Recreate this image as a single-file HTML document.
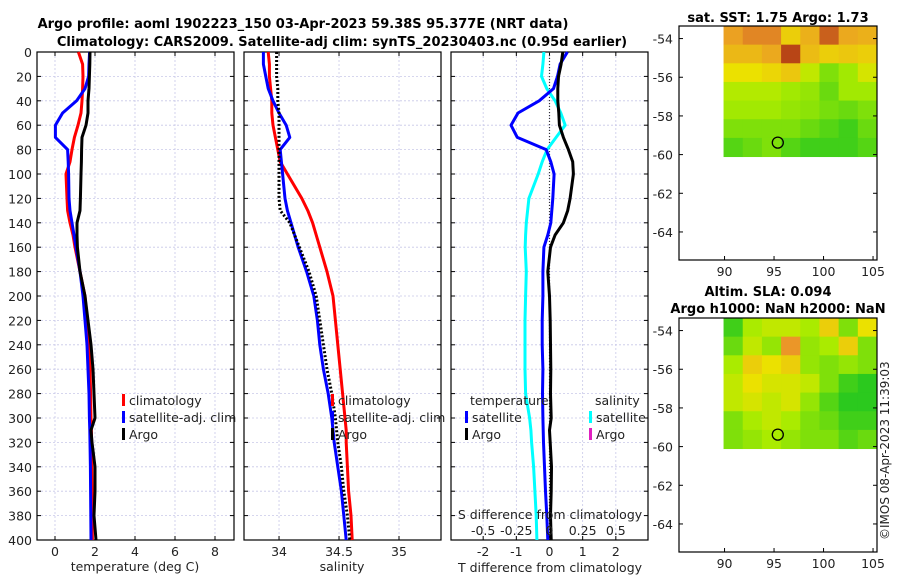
<!DOCTYPE html>
<html><head><meta charset="utf-8"><style>
html,body{margin:0;padding:0;background:#fff;}
svg{display:block;font-family:"DejaVu Sans","Liberation Sans",sans-serif;}
</style></head><body>
<svg id="c" width="900" height="580" viewBox="0 0 900 580" xmlns="http://www.w3.org/2000/svg">
<text x="303" y="28" text-anchor="middle" font-size="13" font-weight="bold">Argo profile: aoml 1902223_150 03-Apr-2023 59.38S 95.377E (NRT data)</text>
<text x="342" y="46" text-anchor="middle" font-size="13" font-weight="bold">Climatology: CARS2009. Satellite-adj clim: synTS_20230403.nc (0.95d earlier)</text>
<text x="778" y="22" text-anchor="middle" font-size="13" font-weight="bold">sat. SST: 1.75 Argo: 1.73</text>
<text x="768" y="296" text-anchor="middle" font-size="13" font-weight="bold">Altim. SLA: 0.094</text>
<text x="778" y="313" text-anchor="middle" font-size="13" font-weight="bold">Argo h1000: NaN h2000: NaN</text>
<text transform="translate(889,540) rotate(-90)" font-size="12" fill="#222">©IMOS 08-Apr-2023 11:39:03</text>
<g id="g"></g>
</svg>
<script>
// depth levels (m)
const depthsA = [0,10,20,30,40,50,60,70,80,90,100,120,130,140,150,160,180,200,220,240,260,280,300,310,320,340,360,380,400];
// Temperature (deg C)
const tempClim = [1.17,1.38,1.4,1.38,1.35,1.3,1.15,0.97,0.85,0.75,0.55,0.6,0.63,0.75,0.9,1.0,1.25,1.5,1.6,1.7,1.75,1.78,1.8,1.82,1.83,1.84,1.85,1.86,1.87];
const tempSat  = [1.73,1.7,1.68,1.5,1.08,0.38,0.02,0.02,0.63,0.66,0.68,0.7,0.75,0.85,0.95,1.05,1.25,1.4,1.5,1.6,1.65,1.7,1.72,1.74,1.75,1.77,1.78,1.79,1.8];
const tempArgo = [1.75,1.74,1.72,1.7,1.65,1.65,1.55,1.35,1.33,1.32,1.3,1.27,1.25,1.1,1.1,1.12,1.25,1.5,1.65,1.8,1.9,1.95,2.0,1.8,1.85,2.0,2.0,1.95,2.05];
// Salinity
const salClim = [33.91,33.92,33.92,33.93,33.94,33.94,33.95,33.97,33.99,34.01,34.07,34.19,34.24,34.28,34.31,34.34,34.4,34.45,34.47,34.49,34.51,34.53,34.55,34.56,34.56,34.57,34.58,34.6,34.61];
const salSat  = [33.87,33.87,33.89,33.91,33.95,34.0,34.06,34.09,34.01,34.02,34.03,34.05,34.07,34.1,34.13,34.16,34.23,34.29,34.32,34.34,34.37,34.41,34.44,34.45,34.46,34.49,34.52,34.54,34.56];
const salArgo = [33.98,33.98,33.98,33.99,33.99,34.0,34.0,34.0,34.0,34.0,34.0,34.0,34.01,34.09,34.13,34.17,34.25,34.31,34.34,34.37,34.4,34.44,34.47,34.48,34.49,34.52,34.54,34.57,34.59];
// Differences from climatology
const tDiffSat  = [0.54,0.32,0.24,0.12,-0.31,-0.95,-1.16,-0.97,-0.1,0.04,0.14,0.1,0.07,0.04,-0.05,-0.17,-0.2,-0.2,-0.22,-0.22,-0.2,-0.21,-0.2,-0.19,-0.18,-0.15,-0.12,-0.08,-0.05];
const tDiffArgo = [0.4,0.35,0.27,0.25,0.25,0.28,0.3,0.42,0.57,0.7,0.72,0.62,0.55,0.42,0.17,0.03,-0.05,0.0,0.02,0.03,0.04,0.03,0.05,0.0,0.02,0.06,0.05,0.03,0.05];
const sDiffSat  = [-0.042,-0.05,-0.06,-0.02,0.042,0.085,0.118,0.05,-0.018,-0.055,-0.085,-0.155,-0.165,-0.175,-0.18,-0.183,-0.175,-0.18,-0.185,-0.185,-0.185,-0.18,-0.15,-0.14,-0.135,-0.12,-0.11,-0.1,-0.095];
// Ticks
const depthTicks = [0,20,40,60,80,100,120,140,160,180,200,220,240,260,280,300,320,340,360,380,400];
const tTicks = [0,2,4,6,8];
const sTicks = [34,34.5,35];
const tdTicks = [-2,-1,0,1,2];
const sdTicks = [-0.5,-0.25,0,0.25,0.5];
const sdLabels = ["-0.5","-0.25","0","0.25","0.5"];
const latTicks = [-54,-56,-58,-60,-62,-64];
const lonTicks = [90,95,100,105];
// Map fields (0 = low green, 1 = high dark red), 7 rows x 8 cols
const sstField = [
[0.72,0.78,0.78,0.6,0.68,0.85,0.7,0.68],
[0.66,0.66,0.7,0.9,0.65,0.6,0.62,0.6],
[0.55,0.55,0.58,0.62,0.45,0.3,0.38,0.5],
[0.42,0.42,0.42,0.38,0.35,0.25,0.38,0.38],
[0.38,0.38,0.38,0.35,0.33,0.28,0.25,0.3],
[0.3,0.3,0.3,0.3,0.25,0.2,0.15,0.25],
[0.2,0.25,0.3,0.2,0.15,0.15,0.15,0.2]];
const slaField = [
[0.15,0.4,0.45,0.45,0.4,0.6,0.3,0.55],
[0.25,0.45,0.35,0.75,0.35,0.4,0.6,0.3],
[0.4,0.6,0.55,0.6,0.35,0.3,0.35,0.3],
[0.45,0.55,0.5,0.5,0.45,0.3,0.15,0.1],
[0.45,0.5,0.45,0.5,0.35,0.2,0.1,0.1],
[0.3,0.4,0.45,0.4,0.3,0.25,0.15,0.15],
[0.3,0.35,0.4,0.35,0.3,0.3,0.2,0.25]];
const floatLon = 95.38, floatLat = -59.38;

const NS="http://www.w3.org/2000/svg";
const G=document.getElementById('g');
function mk(tag,attrs,parent){const e=document.createElementNS(NS,tag);for(const k in attrs)e.setAttribute(k,attrs[k]);(parent||G).appendChild(e);return e;}
const yTop=52,yBot=540;
const yD=d=>yTop+(d/400)*(yBot-yTop);
const FS=12.5;

function panel(x0,x1,xmin,xmax,ticks,labels,name,showY){
  const sx=v=>x0+(v-xmin)/(xmax-xmin)*(x1-x0);
  const g=mk('g',{});
  
  
  ticks.forEach((t,i)=>{
    const l=mk('line',{x1:sx(t),x2:sx(t),y1:yTop,y2:yBot,stroke:'#c8c8e8','stroke-width':0.8,'stroke-dasharray':'2,2'},g);
    
    
    mk('line',{x1:sx(t),x2:sx(t),y1:yBot,y2:yBot-4,stroke:'#000'},g);
    mk('line',{x1:sx(t),x2:sx(t),y1:yTop,y2:yTop+4,stroke:'#000'},g);
    if(labels){const tx=mk('text',{x:sx(t),y:yBot+16,'text-anchor':'middle','font-size':FS,fill:'#222'},g);tx.textContent=labels[i];
    
    }
  });
  depthTicks.forEach(d=>{
    mk('line',{x1:x0,x2:x1,y1:yD(d),y2:yD(d),stroke:'#c8c8e8','stroke-width':0.8,'stroke-dasharray':'2,2'},g);
    mk('line',{x1:x0,x2:x0+4,y1:yD(d),y2:yD(d),stroke:'#000'},g);
    mk('line',{x1:x1,x2:x1-4,y1:yD(d),y2:yD(d),stroke:'#000'},g);
    if(showY){const tx=mk('text',{x:x0-5,y:yD(d)+5,'text-anchor':'end','font-size':FS,fill:'#222'},g);tx.textContent=d;
    
    }
  });
  const b=mk('rect',{x:x0,y:yTop,width:x1-x0,height:yBot-yTop,fill:'none',stroke:'#000','stroke-width':1.2},g);
  
  
  return {sx,g};
}
function line(p,vals,color,w,dash,name){
  const pts=vals.map((v,i)=>p.sx(v).toFixed(1)+','+yD(depthsA[i]).toFixed(1)).join(' ');
  const a={points:pts,fill:'none',stroke:color,'stroke-width':w,'stroke-linejoin':'round'};
  if(dash)a['stroke-dasharray']=dash;
  const e=mk('polyline',a,p.g);
  
  
}
function txt(x,y,s,name,anchor){const t=mk('text',{x:x,y:y,'font-size':FS,fill:'#222','text-anchor':anchor||'start'});t.textContent=s;
  
  }
function legBar(x,y,color,name){const r=mk('rect',{x:x,y:y-11,width:3,height:12,fill:color});
  
  }

// Panel 1 temperature
const p1=panel(37,234,-0.9,8.95,tTicks,tTicks.map(String),'temperature-panel',true);
line(p1,tempClim,'#f00',3,null,'temp-climatology-line');
line(p1,tempSat,'#00f',3,null,'temp-satellite-line');
line(p1,tempArgo,'#000',3,null,'temp-argo-line');
txt(135,571,'temperature (deg C)','temperature-axis-title','middle');
legBar(122,405,'#f00','legend-climatology-marker');txt(129,405,'climatology','legend-climatology');
legBar(122,422,'#00f','legend-satellite-marker');txt(129,422,'satellite-adj. clim','legend-satellite');
legBar(122,439,'#000','legend-argo-marker');txt(129,439,'Argo','legend-argo');

// Panel 2 salinity
const p2=panel(244,441,33.708,35.35,sTicks,['34','34.5','35'],'salinity-panel',false);
line(p2,salClim,'#f00',3,null,'sal-climatology-line');
line(p2,salSat,'#00f',3,null,'sal-satellite-line');
line(p2,salArgo,'#000',3,'2,2','sal-argo-line');
txt(342,571,'salinity','salinity-axis-title','middle');
legBar(331,405,'#f00','legend2-climatology-marker');txt(338,405,'climatology','legend2-climatology');
legBar(331,422,'#00f','legend2-satellite-marker');txt(338,422,'satellite-adj. clim','legend2-satellite');
legBar(331,439,'#000','legend2-argo-marker');txt(338,439,'Argo','legend2-argo');

// Panel 3 differences
const p3=panel(451,648,-2.97,2.97,tdTicks,['-2','-1','0','1','2'],'difference-panel',false);
const zl=mk('line',{x1:p3.sx(0),x2:p3.sx(0),y1:yTop,y2:yBot,stroke:'#333','stroke-width':1.2,'stroke-dasharray':'1,2'},p3.g);


line(p3,sDiffSat.map(v=>v*4),'#0ff',3,null,'sdiff-satellite-line');
line(p3,tDiffSat,'#00f',3,null,'tdiff-satellite-line');
line(p3,tDiffArgo,'#000',3,null,'tdiff-argo-line');
sdTicks.forEach((t,i)=>txt(p3.sx(t*4),535,sdLabels[i],'sdiff-tick-label','middle'));
txt(550,519,'S difference from climatology','sdiff-axis-title','middle');
txt(550,572,'T difference from climatology','tdiff-axis-title','middle');
txt(470,405,'temperature','legend3-temperature-header');
legBar(465,422,'#00f','legend3-tsat-marker');txt(472,422,'satellite','legend3-tsat');
legBar(465,439,'#000','legend3-targo-marker');txt(472,439,'Argo','legend3-targo');
txt(595,405,'salinity','legend3-salinity-header');
legBar(589,422,'#0ff','legend3-ssat-marker');txt(596,422,'satellite','legend3-ssat');
legBar(589,439,'#e020c0','legend3-sargo-marker');txt(596,439,'Argo','legend3-sargo');

// Maps
function cmap(v){
  const stops=[[0,[0,190,40]],[0.4,[170,235,0]],[0.55,[235,225,0]],[0.75,[235,150,40]],[1,[150,15,10]]];
  for(let i=1;i<stops.length;i++){if(v<=stops[i][0]){const a=stops[i-1],b=stops[i];const f=(v-a[0])/(b[0]-a[0]);
    return 'rgb('+a[1].map((c,k)=>Math.round(c+(b[1][k]-c)*f)).join(',')+')';}}
  return 'rgb(150,15,10)';
}
function map(top,field,name){
  const x0=679,x1=877,bot=top+234;
  const lonMin=85.4,lonMax=105.4,latTop=-53.35,latBot=-65.45;
  const sx=l=>x0+(l-lonMin)/(lonMax-lonMin)*(x1-x0);
  const sy=l=>top+(latTop-l)/(latTop-latBot)*(bot-top);
  const g=mk('g',{});
  
  
  const rows=field.length,cols=field[0].length;
  const fx0=sx(89.9),fx1=x1,fy0=top,fy1=sy(-60.1);
  const cw=(fx1-fx0)/cols,ch=(fy1-fy0)/rows;
  field.forEach((row,r)=>row.forEach((v,c)=>{
    const cell=mk('rect',{x:fx0+c*cw,y:fy0+r*ch,width:cw+0.5,height:ch+0.5,fill:cmap(v)},g);
    
    
  }));
  const fr=mk('rect',{x:x0,y:top,width:x1-x0,height:bot-top,fill:'none',stroke:'#000','stroke-width':1.2},g);
  
  
  latTicks.forEach(l=>{
    mk('line',{x1:x0,x2:x0+4,y1:sy(l),y2:sy(l),stroke:'#000'},g);
    mk('line',{x1:x1,x2:x1-4,y1:sy(l),y2:sy(l),stroke:'#000'},g);
    const t=mk('text',{x:x0-6,y:sy(l)+5,'text-anchor':'end','font-size':FS,fill:'#222'},g);t.textContent=l;
    
    
  });
  lonTicks.forEach(l=>{
    mk('line',{x1:sx(l),x2:sx(l),y1:bot,y2:bot-4,stroke:'#000'},g);
    const t=mk('text',{x:sx(l),y:bot+16,'text-anchor':'middle','font-size':FS,fill:'#222'},g);t.textContent=l;
    
    
  });
  const c=mk('circle',{cx:sx(floatLon),cy:sy(floatLat),r:5.5,fill:'none',stroke:'#000','stroke-width':1.3},g);
  
  
}
map(26,sstField,'sst-map');
map(318,slaField,'sla-map');
</script>
</body></html>
